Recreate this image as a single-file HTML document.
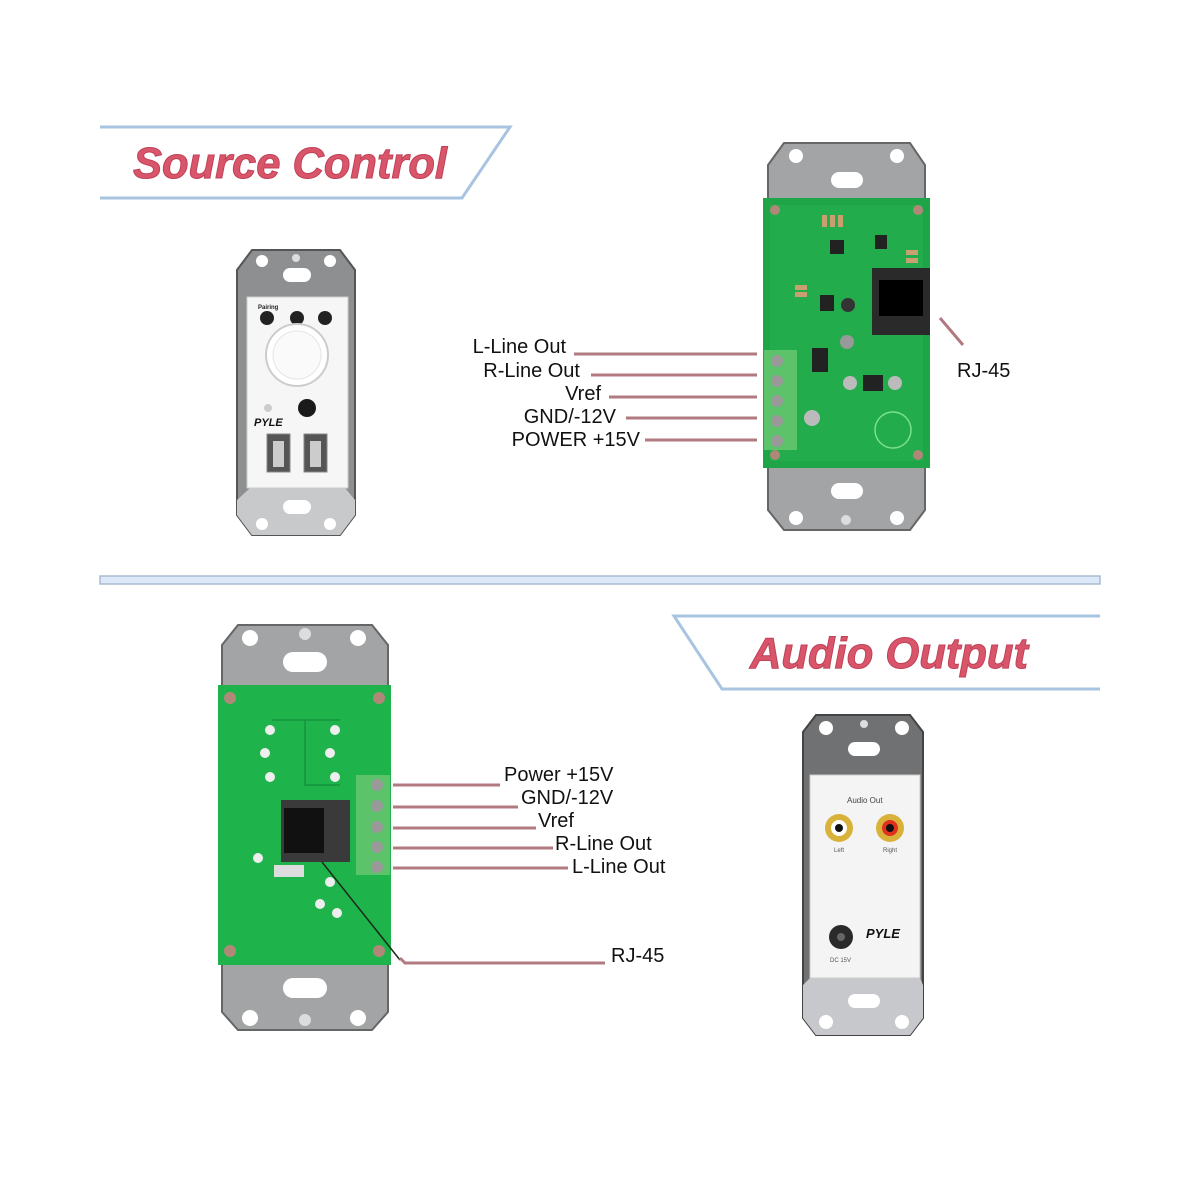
<!DOCTYPE html>
<html><head><meta charset="utf-8"><style>
html,body{margin:0;padding:0;background:#fff;}
svg{display:block}
.lbl{font-family:"Liberation Sans",sans-serif;font-size:20px;fill:#111;}
.ttl{font-family:"Liberation Sans",sans-serif;font-weight:bold;font-style:italic;fill:#d9566a;stroke:#c04058;stroke-width:1}
</style></head><body>
<svg width="1200" height="1200" viewBox="0 0 1200 1200" xmlns="http://www.w3.org/2000/svg">
<rect width="1200" height="1200" fill="#fff"/>
<!-- Source Control banner -->
<polyline points="100,127 510,127 462,198 100,198" fill="none" stroke="#a8c4e0" stroke-width="3"/>
<text class="ttl" x="133" y="178" font-size="44" textLength="314" lengthAdjust="spacingAndGlyphs">Source Control</text>
<!-- separator -->
<rect x="100" y="576" width="1000" height="8" fill="#dde9f8" stroke="#aabbd0" stroke-width="1.5"/>
<!-- Audio Output banner -->
<polyline points="1100,616 674,616 722,689 1100,689" fill="none" stroke="#a8c4e0" stroke-width="3"/>
<text class="ttl" x="750" y="668" font-size="44" textLength="278" lengthAdjust="spacingAndGlyphs">Audio Output</text>

<!-- Device 1: source control faceplate -->
<g>
<polygon points="252,250 340,250 355,270 355,515 340,535 252,535 237,515 237,270" fill="#8d8f91" stroke="#555" stroke-width="2"/>
<polygon points="250,488 345,488 355,500 355,515 340,535 252,535 237,515 237,500" fill="#c8c9cb"/>
<circle cx="262" cy="261" r="6" fill="#fff"/><circle cx="330" cy="261" r="6" fill="#fff"/><circle cx="296" cy="258" r="4" fill="#ddd"/>
<rect x="283" y="268" width="28" height="14" rx="7" fill="#fff"/>
<rect x="283" y="500" width="28" height="14" rx="7" fill="#fff"/>
<circle cx="262" cy="524" r="6" fill="#fff"/><circle cx="330" cy="524" r="6" fill="#fff"/>
<rect x="247" y="297" width="101" height="191" fill="#f6f6f6" stroke="#ccc"/>
<circle cx="267" cy="318" r="7" fill="#222"/><circle cx="297" cy="318" r="7" fill="#222"/><circle cx="325" cy="318" r="7" fill="#222"/>
<text x="258" y="309" font-family="Liberation Sans" font-size="6" font-weight="bold" fill="#222">Pairing</text>
<circle cx="297" cy="355" r="31" fill="#fff" stroke="#ccc" stroke-width="2"/>
<circle cx="297" cy="355" r="24" fill="#fafafa" stroke="#e5e5e5"/>
<circle cx="268" cy="408" r="4" fill="#ccc"/>
<circle cx="307" cy="408" r="9" fill="#1a1a1a"/>
<text x="254" y="426" font-family="Liberation Sans" font-size="11" font-weight="bold" font-style="italic" fill="#111">PYLE</text>
<rect x="267" y="434" width="23" height="38" fill="#555" stroke="#888"/><rect x="273" y="441" width="11" height="26" fill="#ccc"/>
<rect x="304" y="434" width="23" height="38" fill="#555" stroke="#888"/><rect x="310" y="441" width="11" height="26" fill="#ccc"/>
</g>

<!-- Device 2: top PCB -->
<g>
<polygon points="784,143 910,143 925,165 925,510 910,530 784,530 768,510 768,165" fill="#a3a4a5" stroke="#666" stroke-width="2"/>
<rect x="831" y="172" width="32" height="16" rx="8" fill="#fff"/>
<circle cx="796" cy="156" r="7" fill="#fff"/><circle cx="897" cy="156" r="7" fill="#fff"/>
<rect x="831" y="483" width="32" height="16" rx="8" fill="#fff"/>
<circle cx="796" cy="518" r="7" fill="#fff"/><circle cx="897" cy="518" r="7" fill="#fff"/><circle cx="846" cy="520" r="5" fill="#ddd"/>
<rect x="763" y="198" width="167" height="270" fill="#1ea548"/>
<rect x="770" y="205" width="153" height="256" fill="#24b04e" opacity="0.6"/>
<circle cx="775" cy="210" r="5" fill="#b08878"/><circle cx="918" cy="210" r="5" fill="#b08878"/>
<circle cx="775" cy="455" r="5" fill="#b08878"/><circle cx="918" cy="455" r="5" fill="#b08878"/>
<rect x="830" y="240" width="14" height="14" fill="#222"/><rect x="875" y="235" width="12" height="14" fill="#222"/>
<rect x="820" y="295" width="14" height="16" fill="#222"/>
<rect x="812" y="348" width="16" height="24" fill="#222"/><rect x="863" y="375" width="20" height="16" fill="#222"/>
<circle cx="848" cy="305" r="7" fill="#333"/><circle cx="847" cy="342" r="7" fill="#999"/>
<circle cx="850" cy="383" r="7" fill="#bbb"/><circle cx="895" cy="383" r="7" fill="#bbb"/><circle cx="812" cy="418" r="8" fill="#bbb"/>
<circle cx="893" cy="430" r="18" fill="none" stroke="#7be08f" stroke-width="1.5"/>
<g fill="#c8a070"><rect x="822" y="215" width="5" height="12"/><rect x="830" y="215" width="5" height="12"/><rect x="838" y="215" width="5" height="12"/><rect x="906" y="250" width="12" height="5"/><rect x="906" y="258" width="12" height="5"/><rect x="795" y="285" width="12" height="5"/><rect x="795" y="292" width="12" height="5"/></g>
<rect x="872" y="268" width="58" height="67" fill="#2a2a2a"/>
<rect x="879" y="280" width="44" height="36" fill="#000"/>
<rect x="764" y="350" width="33" height="100" fill="#5cc36a"/>
<circle cx="777" cy="361" r="6" fill="#999"/><circle cx="777" cy="381" r="6" fill="#999"/><circle cx="777" cy="401" r="6" fill="#999"/><circle cx="777" cy="421" r="6" fill="#999"/><circle cx="777" cy="441" r="6" fill="#999"/>
</g>

<!-- Top labels -->
<g stroke="#b07a80" stroke-width="3" fill="none">
<line x1="574" y1="354" x2="757" y2="354"/>
<line x1="591" y1="375" x2="757" y2="375"/>
<line x1="609" y1="397" x2="757" y2="397"/>
<line x1="626" y1="418" x2="757" y2="418"/>
<line x1="645" y1="440" x2="757" y2="440"/>
<line x1="940" y1="318" x2="963" y2="345"/>
</g>
<text class="lbl" x="566" y="353" text-anchor="end">L-Line Out</text>
<text class="lbl" x="580" y="377" text-anchor="end">R-Line Out</text>
<text class="lbl" x="601" y="400" text-anchor="end">Vref</text>
<text class="lbl" x="616" y="423" text-anchor="end">GND/-12V</text>
<text class="lbl" x="640" y="446" text-anchor="end">POWER +15V</text>
<text class="lbl" x="957" y="377">RJ-45</text>

<!-- Device 3: bottom-left PCB -->
<g>
<polygon points="238,625 372,625 388,645 388,1012 372,1030 238,1030 222,1012 222,645" fill="#a3a4a5" stroke="#666" stroke-width="2"/>
<rect x="283" y="652" width="44" height="20" rx="10" fill="#fff"/>
<circle cx="250" cy="638" r="8" fill="#fff"/><circle cx="305" cy="634" r="6" fill="#ddd"/><circle cx="358" cy="638" r="8" fill="#fff"/>
<rect x="283" y="978" width="44" height="20" rx="10" fill="#fff"/>
<circle cx="250" cy="1018" r="8" fill="#fff"/><circle cx="305" cy="1020" r="6" fill="#ddd"/><circle cx="358" cy="1018" r="8" fill="#fff"/>
<rect x="218" y="685" width="173" height="280" fill="#1fb44b"/>
<circle cx="230" cy="698" r="6" fill="#b08878"/><circle cx="379" cy="698" r="6" fill="#b08878"/>
<circle cx="230" cy="951" r="6" fill="#b08878"/><circle cx="379" cy="951" r="6" fill="#b08878"/>
<g fill="#eee"><circle cx="270" cy="730" r="5"/><circle cx="335" cy="730" r="5"/><circle cx="265" cy="753" r="5"/><circle cx="330" cy="753" r="5"/><circle cx="270" cy="777" r="5"/><circle cx="335" cy="777" r="5"/><circle cx="330" cy="882" r="5"/><circle cx="320" cy="904" r="5"/><circle cx="337" cy="913" r="5"/><circle cx="258" cy="858" r="5"/></g>
<path d="M272 720 H340 M305 720 V785 H340" stroke="#17913c" stroke-width="1.5" fill="none"/>
<rect x="274" y="865" width="30" height="12" fill="#ddd"/>
<rect x="281" y="800" width="69" height="62" fill="#3a3a3a"/>
<rect x="284" y="808" width="40" height="45" fill="#111"/>
<rect x="356" y="775" width="34" height="100" fill="#5cc36a"/>
<circle cx="377" cy="785" r="6" fill="#999"/><circle cx="377" cy="806" r="6" fill="#999"/><circle cx="377" cy="827" r="6" fill="#999"/><circle cx="377" cy="847" r="6" fill="#999"/><circle cx="377" cy="867" r="6" fill="#999"/>
<line x1="322" y1="862" x2="400" y2="960" stroke="#1a2a1a" stroke-width="1.5"/>
</g>
<g stroke="#b07a80" stroke-width="3" fill="none">
<line x1="393" y1="785" x2="500" y2="785"/>
<line x1="393" y1="807" x2="518" y2="807"/>
<line x1="393" y1="828" x2="536" y2="828"/>
<line x1="393" y1="848" x2="553" y2="848"/>
<line x1="393" y1="868" x2="568" y2="868"/>
<polyline points="400,958 405,963 605,963"/>
</g>
<text class="lbl" x="504" y="781">Power +15V</text>
<text class="lbl" x="521" y="804">GND/-12V</text>
<text class="lbl" x="538" y="827">Vref</text>
<text class="lbl" x="555" y="850">R-Line Out</text>
<text class="lbl" x="572" y="873">L-Line Out</text>
<text class="lbl" x="611" y="962">RJ-45</text>

<!-- Device 4: audio output faceplate -->
<g>
<polygon points="816,715 910,715 923,732 923,1018 910,1035 816,1035 803,1018 803,732" fill="#6f7172" stroke="#444" stroke-width="2"/>
<polygon points="810,978 920,978 923,985 923,1018 910,1035 816,1035 803,1018 803,985" fill="#c6c8cc"/>
<circle cx="826" cy="728" r="7" fill="#fff"/><circle cx="864" cy="724" r="4" fill="#ddd"/><circle cx="902" cy="728" r="7" fill="#fff"/>
<rect x="848" y="742" width="32" height="14" rx="7" fill="#fff"/>
<rect x="848" y="994" width="32" height="14" rx="7" fill="#fff"/>
<circle cx="826" cy="1022" r="7" fill="#fff"/><circle cx="902" cy="1022" r="7" fill="#fff"/>
<rect x="810" y="775" width="110" height="203" fill="#f4f4f4" stroke="#ccc"/>
<text x="847" y="803" font-family="Liberation Sans" font-size="8" fill="#444">Audio Out</text>
<circle cx="839" cy="828" r="14" fill="#d9b23a"/><circle cx="839" cy="828" r="8" fill="#fff"/><circle cx="839" cy="828" r="4" fill="#111"/>
<circle cx="890" cy="828" r="14" fill="#d9b23a"/><circle cx="890" cy="828" r="8" fill="#e03020"/><circle cx="890" cy="828" r="4" fill="#111"/>
<text x="834" y="852" font-family="Liberation Sans" font-size="6" fill="#555">Left</text>
<text x="883" y="852" font-family="Liberation Sans" font-size="6" fill="#555">Right</text>
<circle cx="841" cy="937" r="12" fill="#2a2a2a"/><circle cx="841" cy="937" r="4" fill="#666"/>
<text x="866" y="938" font-family="Liberation Sans" font-size="13" font-weight="bold" font-style="italic" fill="#111">PYLE</text>
<text x="830" y="962" font-family="Liberation Sans" font-size="6" fill="#555">DC 15V</text>
</g>
</svg>
</body></html>
